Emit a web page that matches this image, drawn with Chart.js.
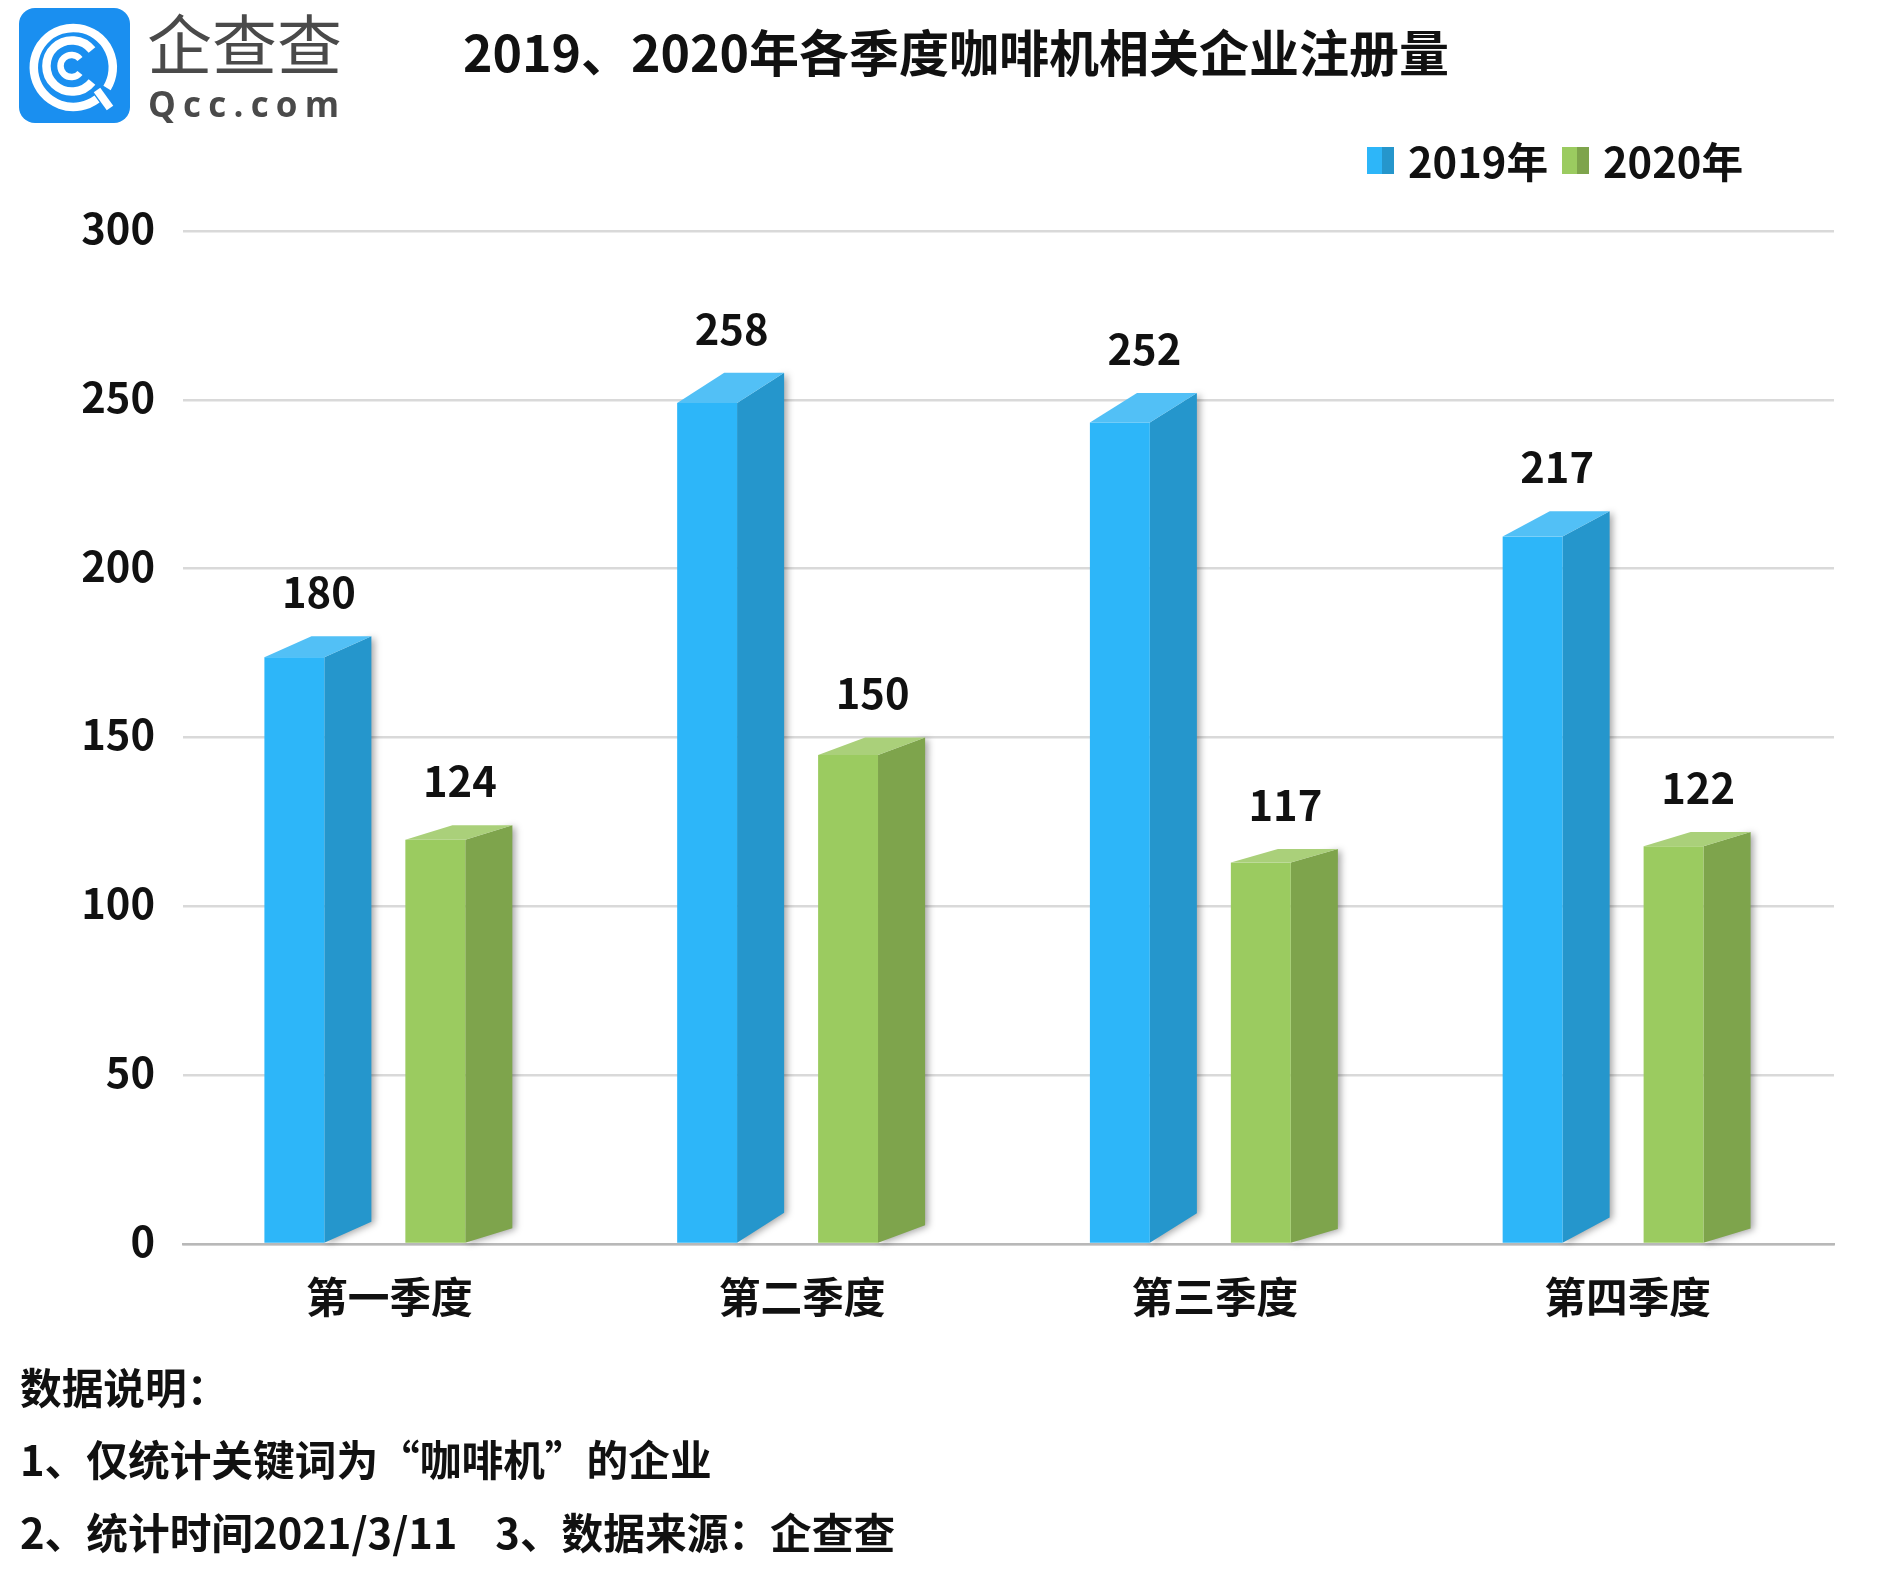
<!DOCTYPE html>
<html lang="zh-CN">
<head>
<meta charset="utf-8">
<title>咖啡机相关企业注册量</title>
<script src="https://cdn.jsdelivr.net/npm/chart.js@4"></script>
<style>
html, body { margin: 0; padding: 0; background: #fff; }
body { width: 1897px; height: 1576px; position: relative; overflow: hidden;
       font-family: "Noto Sans CJK SC", sans-serif; color: #111; }
#chart { position: absolute; left: 0; top: 0; }
.text { position: absolute; white-space: pre; font-weight: 700; font-size: 41.7px; line-height: 50px; }
#title { font-size: 50px; left: 463px; top: 22px; line-height: 56px; }
#logo { position: absolute; left: 0; top: 0; }
</style>
</head>
<body>
<canvas id="chart" width="1897" height="1576"></canvas>

<svg id="logo" width="360" height="130" viewBox="0 0 360 130">
  <rect x="19" y="8" width="111" height="115" rx="16" fill="#1a8ff0"/>
  <g fill="none" stroke="#fff" stroke-linecap="butt">
    <path d="M 107 88 A 39.5 39.5 0 1 0 97 99" stroke-width="8.5"/>
    <path d="M 92 50 A 25.6 25.6 0 1 0 92 82" stroke-width="8.5"/>
    <path d="M 80 59 A 11 11 0 1 0 80 73" stroke-width="6.5"/>
    <path d="M 97 90 L 110 108" stroke-width="8"/>
  </g>
  <text x="147" y="69" font-family="Noto Sans CJK SC" font-size="65" fill="#4a4a4a">企查查</text>
  <text x="148" y="117" font-family="Open Sans" font-weight="700" font-size="35" letter-spacing="7.2" fill="#4a4a4a">Qcc.com</text>
</svg>

<div class="text" id="title">2019、2020年各季度咖啡机相关企业注册量</div>
<div class="text" style="left:20px;top:1361px;">数据说明：</div>
<div class="text" style="left:20px;top:1433px;">1、仅统计关键词为“咖啡机”的企业</div>
<div class="text" style="left:20px;top:1506px;">2、统计时间2021/3/11    3、数据来源：企查查</div>

<script>
// --- DATA ---
const categories = ['第一季度', '第二季度', '第三季度', '第四季度'];
const values2019 = [180, 258, 252, 217];
const values2020 = [124, 150, 117, 122];
const seriesNames = ['2019年', '2020年'];

// front, side, top
const blueFaces = ['#2db6f9', '#2596cc', '#52c0f6'];
const greenFaces = ['#9bcb60', '#7ea44c', '#aad07a'];
const faces = [blueFaces, greenFaces];

const FONT = '700 41.7px "Noto Sans CJK SC", sans-serif';

// Draws each bar as a box, using the positions Chart.js worked out
const boxBars = {
    id: 'boxBars',
    beforeDraw(chart) {
        // nudge y tick labels up a little, they sit just above the grid line
        chart.scales.y.getLabelItems().forEach(item => { item.options.translation[1] -= 3; });
    },
    afterDatasetsDraw(chart) {
        const ctx = chart.ctx;
        chart.data.datasets.forEach((ds, i) => {
            const [front, side, top] = faces[i];
            chart.getDatasetMeta(i).data.forEach((bar, j) => {
                const left = bar.x - bar.width / 2 - 1;
                const right = left + bar.width;
                const sideW = bar.width * 0.44;
                const mid = right - sideW;
                const dy = (bar.base - bar.y) * 0.0346;

                // side with soft shadow
                ctx.save();
                ctx.shadowColor = 'rgba(0, 0, 0, 0.35)';
                ctx.shadowBlur = 7;
                ctx.shadowOffsetX = 3;
                ctx.shadowOffsetY = 1;
                ctx.fillStyle = side;
                ctx.beginPath();
                ctx.moveTo(mid, bar.y + dy);
                ctx.lineTo(right, bar.y);
                ctx.lineTo(right, bar.base - dy);
                ctx.lineTo(mid, bar.base);
                ctx.closePath();
                ctx.fill();
                ctx.restore();

                ctx.fillStyle = front;
                ctx.fillRect(left, bar.y + dy, mid - left, bar.base - bar.y - dy);

                ctx.fillStyle = top;
                ctx.beginPath();
                ctx.moveTo(left, bar.y + dy);
                ctx.lineTo(left + sideW, bar.y);
                ctx.lineTo(right, bar.y);
                ctx.lineTo(mid, bar.y + dy);
                ctx.closePath();
                ctx.fill();

                // value label
                ctx.fillStyle = '#111';
                ctx.font = FONT;
                ctx.textAlign = 'center';
                ctx.textBaseline = 'middle';
                ctx.fillText(ds.data[j], bar.x, bar.y - 44);
            });
        });

        // legend
        const swatchX = [1367, 1562];
        chart.data.datasets.forEach((ds, i) => {
            const x = swatchX[i];
            ctx.fillStyle = faces[i][0];
            ctx.fillRect(x, 147, 15, 27);
            ctx.fillStyle = faces[i][1];
            ctx.fillRect(x + 15, 147, 12, 27);
            ctx.fillStyle = '#111';
            ctx.font = FONT;
            ctx.textAlign = 'left';
            ctx.textBaseline = 'middle';
            ctx.fillText(ds.label, x + 41, 162);
        });
    }
};

new Chart(document.getElementById('chart'), {
    type: 'bar',
    data: {
        labels: categories,
        datasets: [
            { label: seriesNames[0], data: values2019, backgroundColor: 'transparent' },
            { label: seriesNames[1], data: values2020, backgroundColor: 'transparent' }
        ]
    },
    options: {
        responsive: false,
        animation: false,
        categoryPercentage: 0.683,
        barPercentage: 0.759,
        layout: { padding: { top: 231, right: 63, left: 0, bottom: 0 } },
        plugins: { legend: { display: false }, tooltip: { enabled: false } },
        scales: {
            y: {
                min: 0,
                max: 300,
                ticks: { stepSize: 50, color: '#111', padding: 28, font: { family: 'Noto Sans CJK SC', size: 41.7, weight: '700' } },
                grid: { color: '#d9d9d9', lineWidth: 2.5, drawTicks: false },
                border: { display: false },
                afterFit(scale) { scale.width = 183; }
            },
            x: {
                ticks: { color: '#111', padding: 28, maxRotation: 0, font: { family: 'Noto Sans CJK SC', size: 41.7, weight: '700' } },
                grid: { display: false, drawTicks: false },
                border: { color: '#b8b8b8', width: 2.5 },
                afterFit(scale) { scale.height = 332; }
            }
        }
    },
    plugins: [boxBars]
});
</script>
</body>
</html>
